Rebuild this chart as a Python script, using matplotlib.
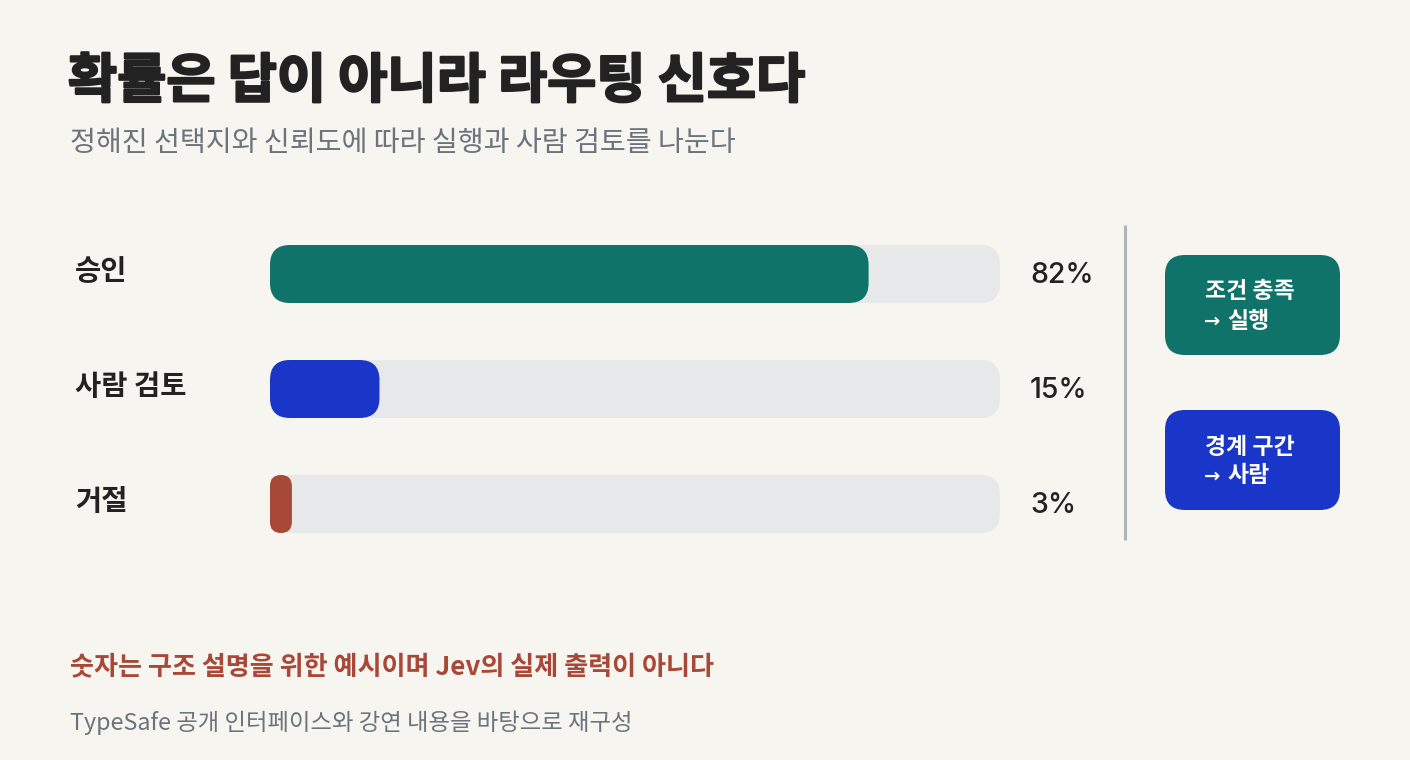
# 확률 라우팅 차트: 승인 / 사람 검토 / 거절 비율
import matplotlib.pyplot as plt
from matplotlib.patches import FancyBboxPatch
from matplotlib import transforms
import matplotlib.patheffects as pe

plt.rcParams['font.family'] = ['Noto Sans CJK KR', 'DejaVu Sans']

categories = ["승인", "사람 검토", "거절"]
values = [82, 15, 3]
value_labels = ["82%", "15%", "3%"]
bar_colors = ["#0F7369", "#1A36C8", "#A84838"]

title = "확률은 답이 아니라 라우팅 신호다"
subtitle = "정해진 선택지와 신뢰도에 따라 실행과 사람 검토를 나눈다"
note = "숫자는 구조 설명을 위한 예시이며 Jev의 실제 출력이 아니다"
source = "TypeSafe 공개 인터페이스와 강연 내용을 바탕으로 재구성"
box_heads = ["조건 충족", "경계 구간"]
box_routes = ["실행", "사람"]
box_colors = ["#0F7369", "#1A36C8"]

BG = "#F6F5F0"
TRACK = "#E7E8EA"
DARK = "#222222"
GRAY = "#6B737B"

W, H = 1410, 760
fig = plt.figure(figsize=(W / 100, H / 100), dpi=100, facecolor=BG)

# 전체 캔버스용 축 (픽셀 좌표)
ax = fig.add_axes([0, 0, 1, 1])
ax.set_xlim(0, W)
ax.set_ylim(H, 0)
ax.axis("off")

# 막대용 축: x 270~1000px, y 230~550px
bx0, bx1, by0, by1 = 270, 1000, 230, 550
axb = fig.add_axes([bx0 / W, (H - by1) / H, (bx1 - bx0) / W, (by1 - by0) / H])
axb.set_xlim(0, 100)
step = 115  # 막대 간격(px)
axb.set_ylim(2 + (by1 - 504) / step, -(274 - by0) / step)
axb.axis("off")

px_x = (bx1 - bx0) / 100.0   # x 1단위 당 px
px_y = step                  # y 1단위 당 px
aspect = px_x / px_y
bar_h = 58 / px_y
radius = 20 / px_x

for i, (v, c) in enumerate(zip(values, bar_colors)):
    track = FancyBboxPatch((0, i - bar_h / 2), 100, bar_h,
                           boxstyle=f"round,pad=0,rounding_size={radius}",
                           mutation_aspect=aspect, fc=TRACK, ec="none")
    axb.add_patch(track)
    r = min(radius, v / 2)
    bar = FancyBboxPatch((0, i - bar_h / 2), v, bar_h,
                         boxstyle=f"round,pad=0,rounding_size={r}",
                         mutation_aspect=aspect, fc=c, ec="none")
    axb.add_patch(bar)

# 라벨: x는 캔버스 px, y는 막대 축 데이터
lab_tr = transforms.blended_transform_factory(ax.transData, axb.transData)
for i, (cat, lab) in enumerate(zip(categories, value_labels)):
    ax.text(75, i - 0.02, cat, transform=lab_tr, fontsize=20.5, fontweight="bold",
            color=DARK, ha="left", va="center")
    ax.text(1030, i + 0.01, lab, transform=lab_tr, fontsize=20.5, fontweight="medium",
            family=["Inter", "DejaVu Sans"], color=DARK, ha="left", va="center")

# 제목, 부제
ax.text(68, 82, title, fontsize=38.5, fontweight="bold", color=DARK,
        ha="left", va="center",
        path_effects=[pe.withStroke(linewidth=1.6, foreground=DARK)])
ax.text(70, 143, subtitle, fontsize=20.3, color=GRAY, ha="left", va="center")

# 구분선
ax.plot([1125, 1125], [225, 540], color="#B0B4B8", lw=2.2, solid_capstyle="butt")

# 라우팅 박스
for k, (head, route, c) in enumerate(zip(box_heads, box_routes, box_colors)):
    top = 255 + k * 155
    box = FancyBboxPatch((1165, top), 175, 100,
                         boxstyle="round,pad=0,rounding_size=20",
                         fc=c, ec="none")
    ax.add_patch(box)
    ax.text(1205, top + 37, head, fontsize=16.5, fontweight="bold", color="white",
            ha="left", va="center")
    ax.text(1204, top + 66, "→", fontsize=14, fontweight="bold", color="white",
            family=["DejaVu Sans"], ha="left", va="center")
    ax.text(1227, top + 66, route, fontsize=16.5, fontweight="bold", color="white",
            ha="left", va="center")

# 각주
ax.text(70, 667, note, fontsize=18.8, fontweight="bold", color="#A84838",
        ha="left", va="center")
ax.text(70, 723, source, fontsize=16.8, color=GRAY, ha="left", va="center")

fig.savefig("out.png", dpi=100, facecolor=BG)
